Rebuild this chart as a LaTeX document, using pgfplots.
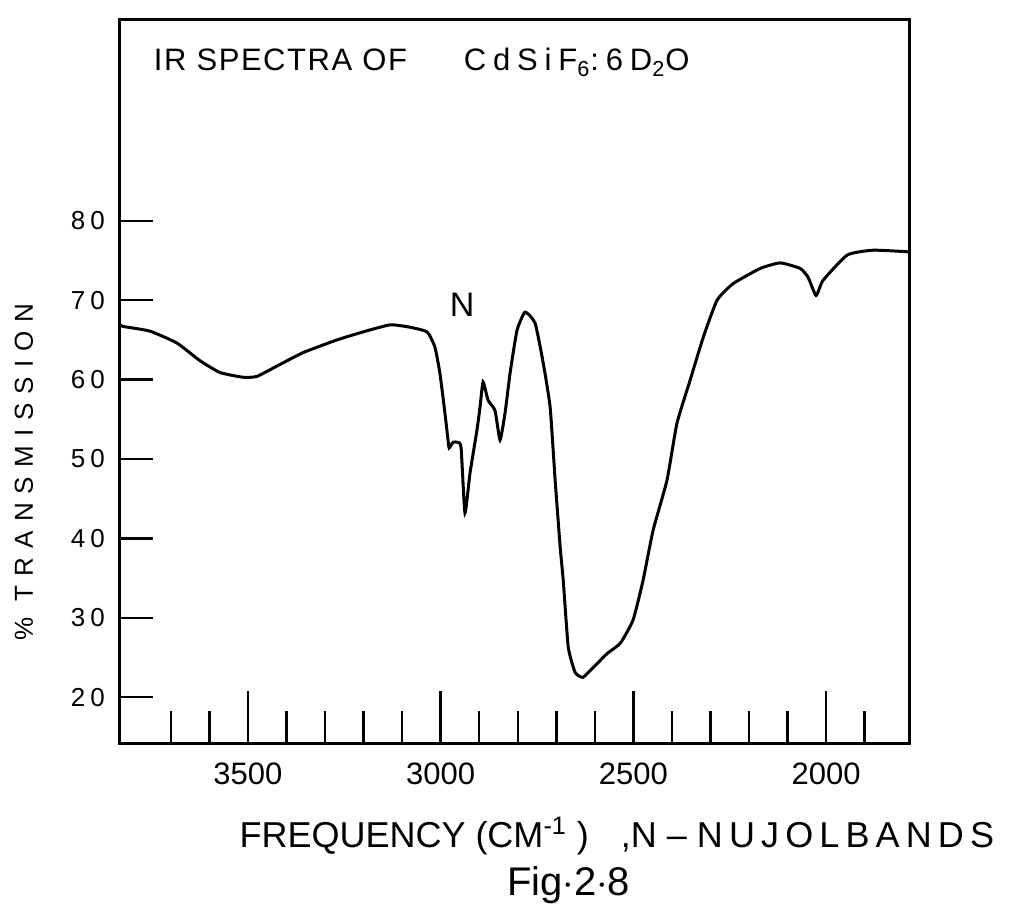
\documentclass[border=0pt]{standalone}
\usepackage{fontspec}
\setmainfont{Liberation Sans}
\usepackage{pgfplots}
\pgfplotsset{compat=1.18}
\begin{document}
\begin{tikzpicture}
\useasboundingbox (-60pt,-82pt) rectangle (448pt,372pt);
\begin{axis}[
  scale only axis, width=394.5pt, height=362pt,
  clip=false,
  x dir=reverse, xmin=1785, xmax=3832, ymin=14.1, ymax=105.3,
  axis line style={line width=1.5pt},
  tick align=inside, tick pos=left,
  xtick={3500,3000,2500,2000},
  minor xtick={3700,3600,3400,3300,3200,3100,2900,2800,2700,2600,2400,2300,2200,2100,1900},
  major tick length=26.5pt, minor tick length=16.5pt,
  ytick={20,30,...,80}, minor ytick={20,30,...,80},
  major y tick style={draw=none},
  tick style={line width=1.2pt, black},
  /pgf/number format/assume math mode=true,
  /pgf/number format/1000 sep={},
  scaled x ticks=false,
  xticklabel style={font=\fontsize{15.5}{18}\selectfont, yshift=-6pt},
  yticklabel style={font=\addfontfeature{LetterSpace=20}\fontsize{13}{15}\selectfont, xshift=-4pt},
]
\addplot[black, line width=1.5pt, smooth, tension=0.3] coordinates {
(3832,66.9) (3824,66.7) (3754,66.1) (3684,64.6) (3625,62.4) (3573,60.9)
(3513,60.3) (3477,60.4) (3425,61.7) (3357,63.4) (3269,65.0) (3202,66.0)
(3131,66.9) (3080,66.6) (3035,66.0) (3015,64.1) (3002,60.8) (2989,55.8)
(2981,52.4) (2978,51.4) (2968,52.1) (2955,52.1) (2947,51.4) (2937,43.2)
(2924,48.2) (2906,53.6) (2898,56.5) (2890,59.7) (2877,57.4) (2859,56.1)
(2846,52.4) (2833,55.8) (2820,60.8) (2802,66.2) (2781,68.5) (2755,67.1)
(2734,62.1) (2716,56.5) (2703,47.3) (2690,38.9) (2682,34.7) (2669,26.3)
(2651,23.1) (2631,22.5) (2605,23.7) (2568,25.5) (2534,26.8) (2501,29.7)
(2475,34.7) (2449,41.0) (2413,47.3) (2387,54.5) (2353,59.9) (2319,65.3)
(2283,70.0) (2241,72.1) (2171,74.0) (2119,74.7) (2067,74.0) (2047,72.9)
(2026,70.6) (2008,72.5) (1945,75.7) (1878,76.3) (1787,76.1)
};
\node[anchor=base west, font=\addfontfeature{LetterSpace=5}\fontsize{15.5}{18}\selectfont]
  at (axis description cs:0.034,0.9297) {IR SPECTRA OF};
\node[anchor=base west, font=\addfontfeature{LetterSpace=22}\fontsize{15.5}{18}\selectfont]
  at (axis description cs:0.427,0.9297) {CdSiF\textsubscript{6}:6D\textsubscript{2}O};
\node[font=\fontsize{17}{20}\selectfont] at (axis description cs:0.4335,0.6064) {N};
\node[anchor=base west, font=\fontsize{18}{21}\selectfont, inner sep=0pt]
  at (axis description cs:0.151,-0.143) {FREQUENCY (CM\textsuperscript{-1} )\hspace{16pt},N -- {\addfontfeature{LetterSpace=17}NUJOLBANDS}};
\node[anchor=base west, font=\fontsize{20}{24}\selectfont, inner sep=0pt]
  at (axis description cs:0.490,-0.209) {Fig$\cdot$2$\cdot$8};
\node[rotate=90, font=\addfontfeature{LetterSpace=35}\fontsize{13}{15}\selectfont]
  at (axis description cs:-0.1217,0.3757) {\% TRANSMISSION};
\end{axis}
\end{tikzpicture}
\end{document}
